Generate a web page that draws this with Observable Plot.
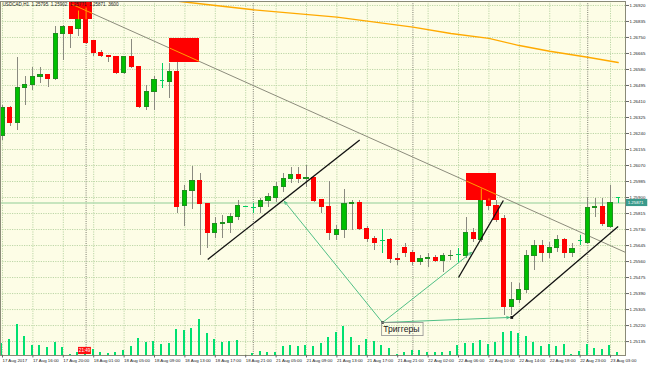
<!DOCTYPE html>
<html><head><meta charset="utf-8">
<script src="https://cdn.jsdelivr.net/npm/d3@7"></script>
<script src="https://cdn.jsdelivr.net/npm/@observablehq/plot@0.6"></script>
<style>
html,body{margin:0;padding:0;background:#ffffff}
#chart{width:650px;height:366px;overflow:hidden}
</style></head><body><div id="chart"></div>
<script>
// ---------- data ----------
const opens = [1.26229,1.26373,1.26298,1.26479,1.26500,1.26538,1.26553,1.26527,1.26771,1.26803,
1.26793,1.26846,1.26729,1.26665,1.26654,1.26644,1.26559,1.26644,1.26591,1.26383,
1.26458,1.26522,1.26511,1.26564,1.25857,1.25937,1.25990,1.25868,1.25709,1.25757,
1.25767,1.25794,1.25852,1.25847,1.25847,1.25879,1.25900,1.25958,1.26001,1.26022,
1.25996,1.26006,1.25889,1.25847,1.25703,1.25725,1.25868,1.25873,1.25735,1.25682,
1.25672,1.25672,1.25571,1.25634,1.25603,1.25555,1.25576,1.25581,1.25565,1.25589,
1.25597,1.25592,1.25709,1.25672,1.25884,1.25857,1.25788,1.25321,1.25358,1.25411,
1.25592,1.25645,1.25603,1.25634,1.25672,1.25603,1.25672,1.25661,1.25842,1.25852,
1.25746,1.25900];
const highs = [1.26389,1.26383,1.26644,1.26543,1.26591,1.26591,1.26553,1.26808,1.26814,1.26808,
1.26893,1.26909,1.26734,1.26681,1.26654,1.26644,1.26644,1.26739,1.26591,1.26495,
1.26543,1.26612,1.26612,1.26617,1.25964,1.26065,1.26028,1.25868,1.25794,1.25804,
1.25815,1.25884,1.25852,1.25868,1.25895,1.25921,1.25980,1.26028,1.26059,1.26059,
1.26070,1.26006,1.25889,1.25985,1.25751,1.25942,1.25884,1.25884,1.25746,1.25693,
1.25730,1.25682,1.25603,1.25656,1.25618,1.25592,1.25603,1.25592,1.25603,1.25618,
1.25629,1.25794,1.25735,1.25948,1.25895,1.25884,1.25804,1.25448,1.25443,1.25618,
1.25672,1.25672,1.25661,1.25698,1.25682,1.25656,1.25698,1.25900,1.25895,1.25895,
1.25964,1.25900];
const lows = [1.26203,1.26277,1.26256,1.26389,1.26468,1.26506,1.26484,1.26522,1.26628,1.26692,
1.26755,1.26713,1.26649,1.26644,1.26617,1.26553,1.26553,1.26585,1.26373,1.26362,
1.26362,1.26479,1.26426,1.25815,1.25746,1.25836,1.25592,1.25629,1.25682,1.25682,
1.25709,1.25778,1.25852,1.25815,1.25815,1.25847,1.25873,1.25927,1.25974,1.25974,
1.25953,1.25873,1.25815,1.25672,1.25672,1.25682,1.25725,1.25725,1.25661,1.25618,
1.25603,1.25549,1.25539,1.25581,1.25539,1.25539,1.25528,1.25555,1.25502,1.25565,
1.25555,1.25576,1.25661,1.25661,1.25831,1.25767,1.25273,1.25273,1.25337,1.25390,
1.25512,1.25555,1.25576,1.25608,1.25576,1.25581,1.25645,1.25650,1.25794,1.25746,
1.25735,1.25868];
const closes = [1.26373,1.26298,1.26479,1.26500,1.26538,1.26553,1.26527,1.26771,1.26803,1.26771,
1.26846,1.26723,1.26665,1.26654,1.26644,1.26559,1.26644,1.26591,1.26383,1.26458,
1.26522,1.26522,1.26564,1.25852,1.25937,1.25990,1.25868,1.25709,1.25757,1.25767,
1.25794,1.25857,1.25852,1.25847,1.25879,1.25905,1.25958,1.26001,1.26022,1.26001,
1.26006,1.25884,1.25847,1.25709,1.25725,1.25863,1.25873,1.25735,1.25682,1.25661,
1.25672,1.25576,1.25568,1.25608,1.25555,1.25576,1.25579,1.25565,1.25592,1.25592,
1.25597,1.25709,1.25682,1.25884,1.25857,1.25783,1.25316,1.25358,1.25411,1.25592,
1.25645,1.25603,1.25634,1.25672,1.25603,1.25629,1.25672,1.25842,1.25852,1.25757,
1.25871,1.25900];
const volumes = [1200,1600,3100,1900,1000,1000,770,1300,830,100,
300,300,570,300,170,300,500,870,1700,1300,
1400,1070,1230,2600,2470,2700,3570,2230,1600,1300,
1400,1500,0,170,400,270,270,870,1000,870,
1030,930,1170,1770,2300,2900,1830,1000,1600,1400,
970,700,100,300,500,550,270,330,270,430,
970,1200,1170,1500,1070,1270,2300,2400,2200,1900,
1330,870,1070,870,1070,100,430,1070,730,600,
1000,270];
const xTickLabels = ["17 Aug 2017","17 Aug 16:00","17 Aug 20:00","18 Aug 01:00","18 Aug 05:00","18 Aug 09:00",
"18 Aug 13:00","18 Aug 17:00","18 Aug 21:00","21 Aug 05:00","21 Aug 09:00","21 Aug 13:00","21 Aug 17:00",
"21 Aug 21:00","22 Aug 02:00","22 Aug 06:00","22 Aug 10:00","22 Aug 14:00","22 Aug 18:00","22 Aug 23:00","23 Aug 03:00"];
const xTickIdx = [0,4,8,12,16,20,24,28,32,36,40,44,48,52,56,60,64,68,72,76,80];
const yTicks = [1.26920,1.26835,1.26750,1.26665,1.26580,1.26495,1.26410,1.26325,1.26240,1.26155,1.26070,
1.25985,1.25900,1.25815,1.25730,1.25645,1.25560,1.25475,1.25390,1.25305,1.25220,1.25135];
const separatorIdx = [11,33,54,77];
// moving average (orange)
const maIdx = [18,22,26,33,44,48,54,59,64,68,72,77,81];
const maVal = [1.26963,1.26947,1.26929,1.26897,1.26858,1.26837,1.26805,1.26771,1.26745,1.26707,1.26677,1.26645,1.26617];
// grey trend line
const greyLine = {i1: 9.2, p1: 1.26925, i2: 82.0, p2: 1.25608};
// black trend lines
const blackLines = [
  {i1: 27.0, p1: 1.25571, i2: 47.0, p2: 1.26206},
  {i1: 60.0, p1: 1.25475, i2: 65.9, p2: 1.25884},
  {i1: 67.0, p1: 1.25263, i2: 81.0, p2: 1.25746}
];
// red rectangles
const boxes = [
  {i1: 8.8, i2: 11.8, p1: 1.26846, p2: 1.26990},
  {i1: 22.0, i2: 25.9, p1: 1.26617, p2: 1.26745},
  {i1: 61.05, i2: 65.0, p1: 1.25884, p2: 1.26028}
];
// "Триггеры" arrows
const trigOrigin = {i: 50.0, p: 1.25236};
const trigTargets = [
  {i: 37.1, p: 1.25879},
  {i: 61.7, p: 1.25608},
  {i: 66.7, p: 1.25263}
];
const trigLabel = "Триггеры";
const bid = 1.25871;
const header = "USDCAD,H1  1.25795  1.25902  1.25771  1.25871  3600";
const timeLabel = {i: 11, text: "21:49"};

// ---------- layout ----------
const W = 650, H = 366;
const xLo = -0.263, xHi = 81.97;
const yLo = 1.25061, yHi = 1.26941;
const plotPxH = 354;
const volK = (yHi - yLo) / plotPxH / 100;

const bg = "#fdfde6", gridC = "#bcd6a6", sepC = "#7c7c70";
const upFill = "#00c000", upStroke = "#1f8f1f", dnFill = "#ff0000", wickC = "#8a8a80";
const dojiC = "#00d060";
const volC = "#00e070";

const candles = opens.map((o, i) => ({i, o, h: highs[i], l: lows[i], c: closes[i], v: volumes[i]}));
const up = candles.filter(d => d.c > d.o);
const dn = candles.filter(d => d.c < d.o);
const dj = candles.filter(d => d.c === d.o);

// segment clipping (Liang–Barsky) for parts of lines lying inside red boxes
function clipSeg(x1, y1, x2, y2, b) {
  let t0 = 0, t1 = 1;
  const dx = x2 - x1, dy = y2 - y1;
  const ps = [[-dx, x1 - b.i1], [dx, b.i2 - x1], [-dy, y1 - b.p1], [dy, b.p2 - y1]];
  for (const [p, q] of ps) {
    if (p === 0) { if (q < 0) return null; continue; }
    const r = q / p;
    if (p < 0) { if (r > t1) return null; if (r > t0) t0 = r; }
    else { if (r < t0) return null; if (r < t1) t1 = r; }
  }
  return {x1: x1 + t0 * dx, y1: y1 + t0 * dy, x2: x1 + t1 * dx, y2: y1 + t1 * dy};
}
const orangeSegs = [];
for (const b of boxes) {
  const s = clipSeg(greyLine.i1, greyLine.p1, greyLine.i2, greyLine.p2, b);
  if (s) orangeSegs.push(s);
  for (const d of candles) {
    if (d.i < b.i1 || d.i > b.i2) continue;
    const top = Math.max(d.o, d.c);
    const a = Math.max(top, b.p1), z = Math.min(d.h, b.p2);
    if (z > a) orangeSegs.push({x1: d.i, y1: a, x2: d.i, y2: z});
  }
}

const trigSegs = trigTargets.map(t => ({x1: trigOrigin.i, y1: trigOrigin.p, x2: t.i, y2: t.p}));

const plot = Plot.plot({
  width: W, height: H,
  marginLeft: 0, marginRight: 25, marginTop: 1, marginBottom: 11,
  x: {type: "linear", domain: [xLo, xHi], axis: null},
  y: {type: "linear", domain: [yLo, yHi], axis: null},
  style: {background: "#ffffff", fontFamily: "'Liberation Sans', Arial, sans-serif", fontSize: "4.6px", color: "#222"},
  marks: [
    Plot.frame({fill: bg, stroke: null}),
    Plot.gridY(yTicks, {stroke: gridC, strokeOpacity: 1, strokeDasharray: "1.2,1.2"}),
    Plot.gridX(xTickIdx, {stroke: gridC, strokeOpacity: 1, strokeDasharray: "1.2,1.2"}),
    Plot.ruleX(separatorIdx, {stroke: sepC, strokeDasharray: "1,1.2"}),
    // volumes
    Plot.rect(candles, {x1: d => d.i - 0.22, x2: d => d.i + 0.04, y1: yLo, y2: d => yLo + d.v * volK, fill: volC, shapeRendering: "crispEdges"}),
    // bid line
    Plot.ruleY([bid], {stroke: "#b4dcb0", strokeWidth: 1.5}),
    // moving average
    Plot.line(maIdx.map((i, k) => ({i, p: maVal[k]})), {x: "i", y: "p", stroke: "#ffaa00", strokeWidth: 1.4, clip: true}),
    // grey trend line
    Plot.link([greyLine], {x1: "i1", y1: "p1", x2: "i2", y2: "p2", stroke: "#8c8c7c", strokeWidth: 1, clip: true}),
    // wicks
    Plot.ruleX(candles.filter(d => d.c !== d.o), {x: "i", y1: "l", y2: "h", stroke: wickC, strokeWidth: 1, shapeRendering: "crispEdges"}),
    Plot.ruleX(dj, {x: "i", y1: "l", y2: "h", stroke: dojiC, strokeWidth: 1, shapeRendering: "crispEdges"}),
    // bodies
    Plot.rect(up, {x1: d => d.i - 0.27, x2: d => d.i + 0.27, y1: "o", y2: "c", fill: upFill, stroke: upStroke, strokeWidth: 1, shapeRendering: "crispEdges"}),
    Plot.rect(dn, {x1: d => d.i - 0.27, x2: d => d.i + 0.27, y1: "o", y2: "c", fill: dnFill, stroke: dnFill, strokeWidth: 1, shapeRendering: "crispEdges"}),
    Plot.link(dj, {x1: d => d.i - 0.3, x2: d => d.i + 0.3, y1: "o", y2: "o", stroke: dojiC, strokeWidth: 1, shapeRendering: "crispEdges"}),
    // red rectangles + orange overlaps
    Plot.rect(boxes, {x1: "i1", x2: "i2", y1: "p1", y2: "p2", fill: "#ff0000", clip: true, shapeRendering: "crispEdges"}),
    Plot.link(orangeSegs, {x1: "x1", y1: "y1", x2: "x2", y2: "y2", stroke: "#ffa000", strokeWidth: 1, clip: true}),
    // black trend lines
    Plot.link(blackLines, {x1: "i1", y1: "p1", x2: "i2", y2: "p2", stroke: "#111", strokeWidth: 1.3}),
    Plot.dot([blackLines[2]], {x: "i1", y: "p1", symbol: "square", r: 1.6, fill: "#111", stroke: null}),
    // trigger arrows
    Plot.arrow(trigSegs, {x1: "x1", y1: "y1", x2: "x2", y2: "y2", stroke: "#3cb87a", strokeWidth: 0.9, headLength: 5, headAngle: 45}),
    Plot.dot([trigOrigin], {x: "i", y: "p", symbol: "square", r: 1.4, fill: "#222", stroke: null}),
    Plot.rect([trigOrigin], {x1: d => d.i - 0.05, x2: d => d.i + 5.4, y1: d => d.p - 0.00072, y2: d => d.p - 0.00002, fill: "none", stroke: "#909090", strokeWidth: 0.8}),
    Plot.text([trigOrigin], {x: d => d.i + 0.1, y: d => d.p - 0.00036, text: () => trigLabel, textAnchor: "start", fontSize: 8.6, fill: "#1a1a1a"}),
    // time label at bottom
    Plot.rect([timeLabel], {x1: d => d.i - 1.0, x2: d => d.i + 0.7, y1: yLo + 0.00005, y2: yLo + 0.00043, fill: "#ff1010"}),
    Plot.text([timeLabel], {x: d => d.i - 0.2, y: yLo + 0.00024, text: "text", fill: "#fff", fontSize: 4.6}),
    // frame
    Plot.frame({stroke: "#8a8a78", strokeWidth: 1}),
    // axes
    Plot.axisY(yTicks, {anchor: "right", tickSize: 3, tickPadding: 1, tickFormat: d3.format(".5f"), fontSize: 4.4, stroke: "#666"}),
    Plot.axisX(xTickIdx, {anchor: "bottom", tickSize: 2.5, tickPadding: 0.5, textAnchor: "start", tickFormat: d => xTickLabels[xTickIdx.indexOf(d)], fontSize: 4.4, stroke: "#666"}),
    // bid label
    Plot.rect([bid], {x1: 82.1, x2: 84.9, y1: d => d - 0.00019, y2: d => d + 0.00019, fill: "#3a9a8c", clip: false}),
    Plot.text([bid], {x: 82.25, y: d => d, text: d => d.toFixed(5), textAnchor: "start", fill: "#ffffff", fontSize: 4.4}),
    // header
    Plot.text([header], {frameAnchor: "top-left", dx: 2, dy: 1.5, text: d => d, fontSize: 4.6, fill: "#222", textAnchor: "start"})
  ]
});
document.getElementById("chart").appendChild(plot);
</script>
</body></html>
